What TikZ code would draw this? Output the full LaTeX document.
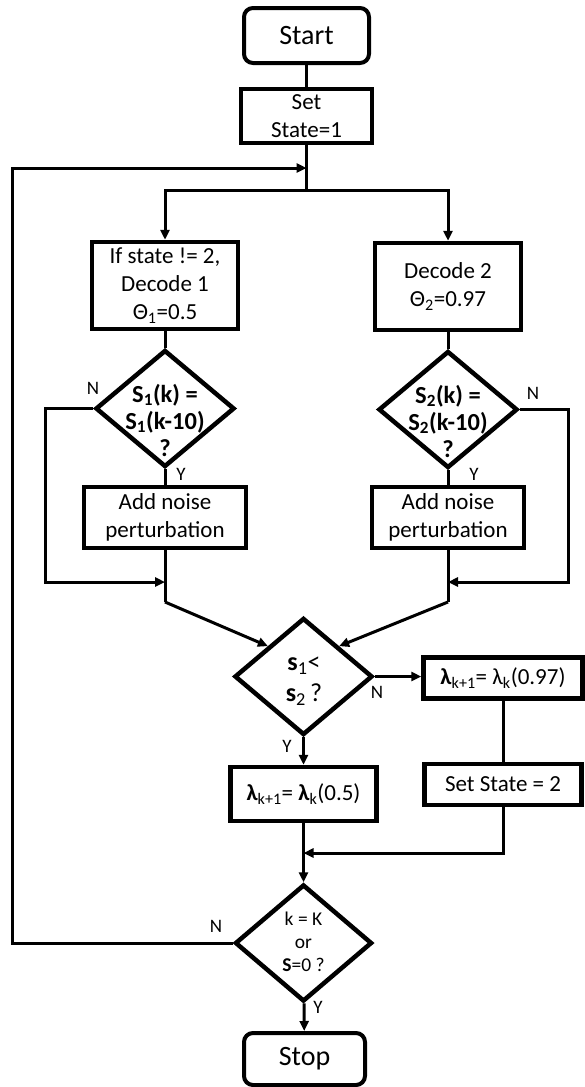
\documentclass[tikz,border=0pt]{standalone}
\usepackage{fontspec}
\setmainfont{Carlito}
\usetikzlibrary{arrows.meta,shapes.geometric}
\newcommand\boxfont{\fontsize{23}{28}\selectfont}
\newcommand\termfont{\fontsize{28}{32}\selectfont}
\newcommand\labfont{\fontsize{19}{22}\selectfont}
\newcommand\decfont{\fontsize{24.5}{27}\selectfont}
\newcommand\middecfont{\fontsize{26}{31}\selectfont}
\newcommand\findecfont{\fontsize{19.5}{23}\selectfont}
\begin{document}
\begin{tikzpicture}[x=1pt,y=-1pt,
  conn/.style={line width=3pt},
  arr/.style={conn,-{Triangle[length=10pt,width=9pt]}},
  box/.style={draw,line width=4.5pt,inner sep=0pt,align=center,font=\boxfont},
  term/.style={box,rounded corners=9pt,font=\termfont,line width=4pt},
  dec/.style={draw,shape=diamond,line width=4.5pt,inner sep=0pt},
  dtext/.style={align=center,inner sep=0pt},
  lab/.style={font=\labfont,inner sep=0pt}]
\useasboundingbox (0,0) rectangle (584,1087);

% nodes
\node[term,minimum width=125pt,minimum height=55pt] (start) at (306.5,35.5) {Start};
\node[box,minimum width=131pt,minimum height=54pt] (set1) at (306.5,116) {Set\\State=1};
\coordinate (loopin) at (306.5,168);
\coordinate (split) at (306.5,190);
\node[box,minimum width=146pt,minimum height=87pt] (dec1) at (165,285.5) {If state != 2,\\Decode 1\\Θ\textsubscript{1}=0.5};
\node[box,minimum width=146pt,minimum height=87pt] (dec2) at (448,286.5) {Decode 2\\Θ\textsubscript{2}=0.97};

\node[dec,minimum width=139pt,minimum height=117pt] (d1) at (165,408.5) {};
\node[dtext,font=\decfont] (d1t) at (165,420) {\textbf{S\textsubscript{1}(k) =}\\\textbf{S\textsubscript{1}(k-10)}\\\textbf{?}};
\node[dec,minimum width=139pt,minimum height=117pt] (d2) at (448,409.5) {};
\node[dtext,font=\decfont] (d2t) at (448,421) {\textbf{S\textsubscript{2}(k) =}\\\textbf{S\textsubscript{2}(k-10)}\\\textbf{?}};

\node[box,minimum width=162pt,minimum height=61pt] (n1) at (165,517.5) {Add noise\\perturbation};
\node[box,minimum width=152pt,minimum height=61pt] (n2) at (448,517.5) {Add noise\\perturbation};
\coordinate (c1) at (45,582);
\coordinate (j1) at (165,582);
\coordinate (j1b) at (165,602);
\coordinate (c2) at (568,582);
\coordinate (j2) at (448,582);
\coordinate (j2b) at (448,602);

\node[dec,minimum width=138pt,minimum height=117pt] (md) at (303.5,676.5) {};
\node[dtext,font=\middecfont] (mdt) at (304,681) {\textbf{s}\textsubscript{1}<\\\textbf{s}\textsubscript{2}\,?};
\node[box,minimum width=159pt,minimum height=41pt] (l97) at (503,678) {\textbf{λ}\textsubscript{k+1}= λ\textsubscript{k}(0.97)};
\node[box,minimum width=157pt,minimum height=41pt] (ss2) at (503,784.5) {Set State = 2};
\node[box,minimum width=146pt,minimum height=54pt] (l05) at (303.5,794) {\textbf{λ}\textsubscript{k+1}= \textbf{λ}\textsubscript{k}(0.5)};
\coordinate (jb) at (303.5,853);

\node[dec,minimum width=137pt,minimum height=117pt] (fd) at (303.5,943) {};
\node[dtext,font=\findecfont] (fdt) at (303.5,942) {k = K\\or\\\textbf{S}=0 ?};
\coordinate (lp) at (12,168);
\node[term,minimum width=121pt,minimum height=52pt] (stop) at (304.5,1059) {Stop};

% connectors
\draw[conn] (start) -- (set1);
\draw[conn] (set1) -- (split);
\draw[arr] (split) -| (dec1.north);
\draw[arr] (split) -| (dec2.north);
\draw[conn] (dec1) -- (d1);
\draw[conn] (dec2) -- (d2);
\draw[conn] (d1) -- (n1);
\draw[conn] (d2) -- (n2);
\draw[arr] (d1.west) -| (c1) -- (j1);
\draw[arr] (d2.east) -| (c2) -- (j2);
\draw[conn] (n1) -- (j1) -- (j1b);
\draw[conn] (n2) -- (j2) -- (j2b);
\draw[arr] (j1b) -- (md.north west);
\draw[arr] (j2b) -- (md.north east);
\draw[arr] (md.east) -- (md.east -| l97.west);
\draw[conn] (l97) -- (ss2);
\draw[arr] (ss2.south) |- (jb);
\draw[arr] (md) -- (l05);
\draw[arr] (l05) -- (fd);
\draw[arr] (fd.west) -| (lp) -- (loopin);
\draw[arr] (fd) -- (stop);

% labels
\node[lab] (nl1) at (93,388) {N};
\node[lab] (yl1) at (181,474) {Y};
\node[lab] (nr1) at (533,393) {N};
\node[lab] (yr1) at (474,474) {Y};
\node[lab] (nm) at (377,692) {N};
\node[lab] (ym) at (287,746) {Y};
\node[lab] (nf) at (216,926) {N};
\node[lab] (yf) at (318,1007) {Y};
\end{tikzpicture}
\end{document}
